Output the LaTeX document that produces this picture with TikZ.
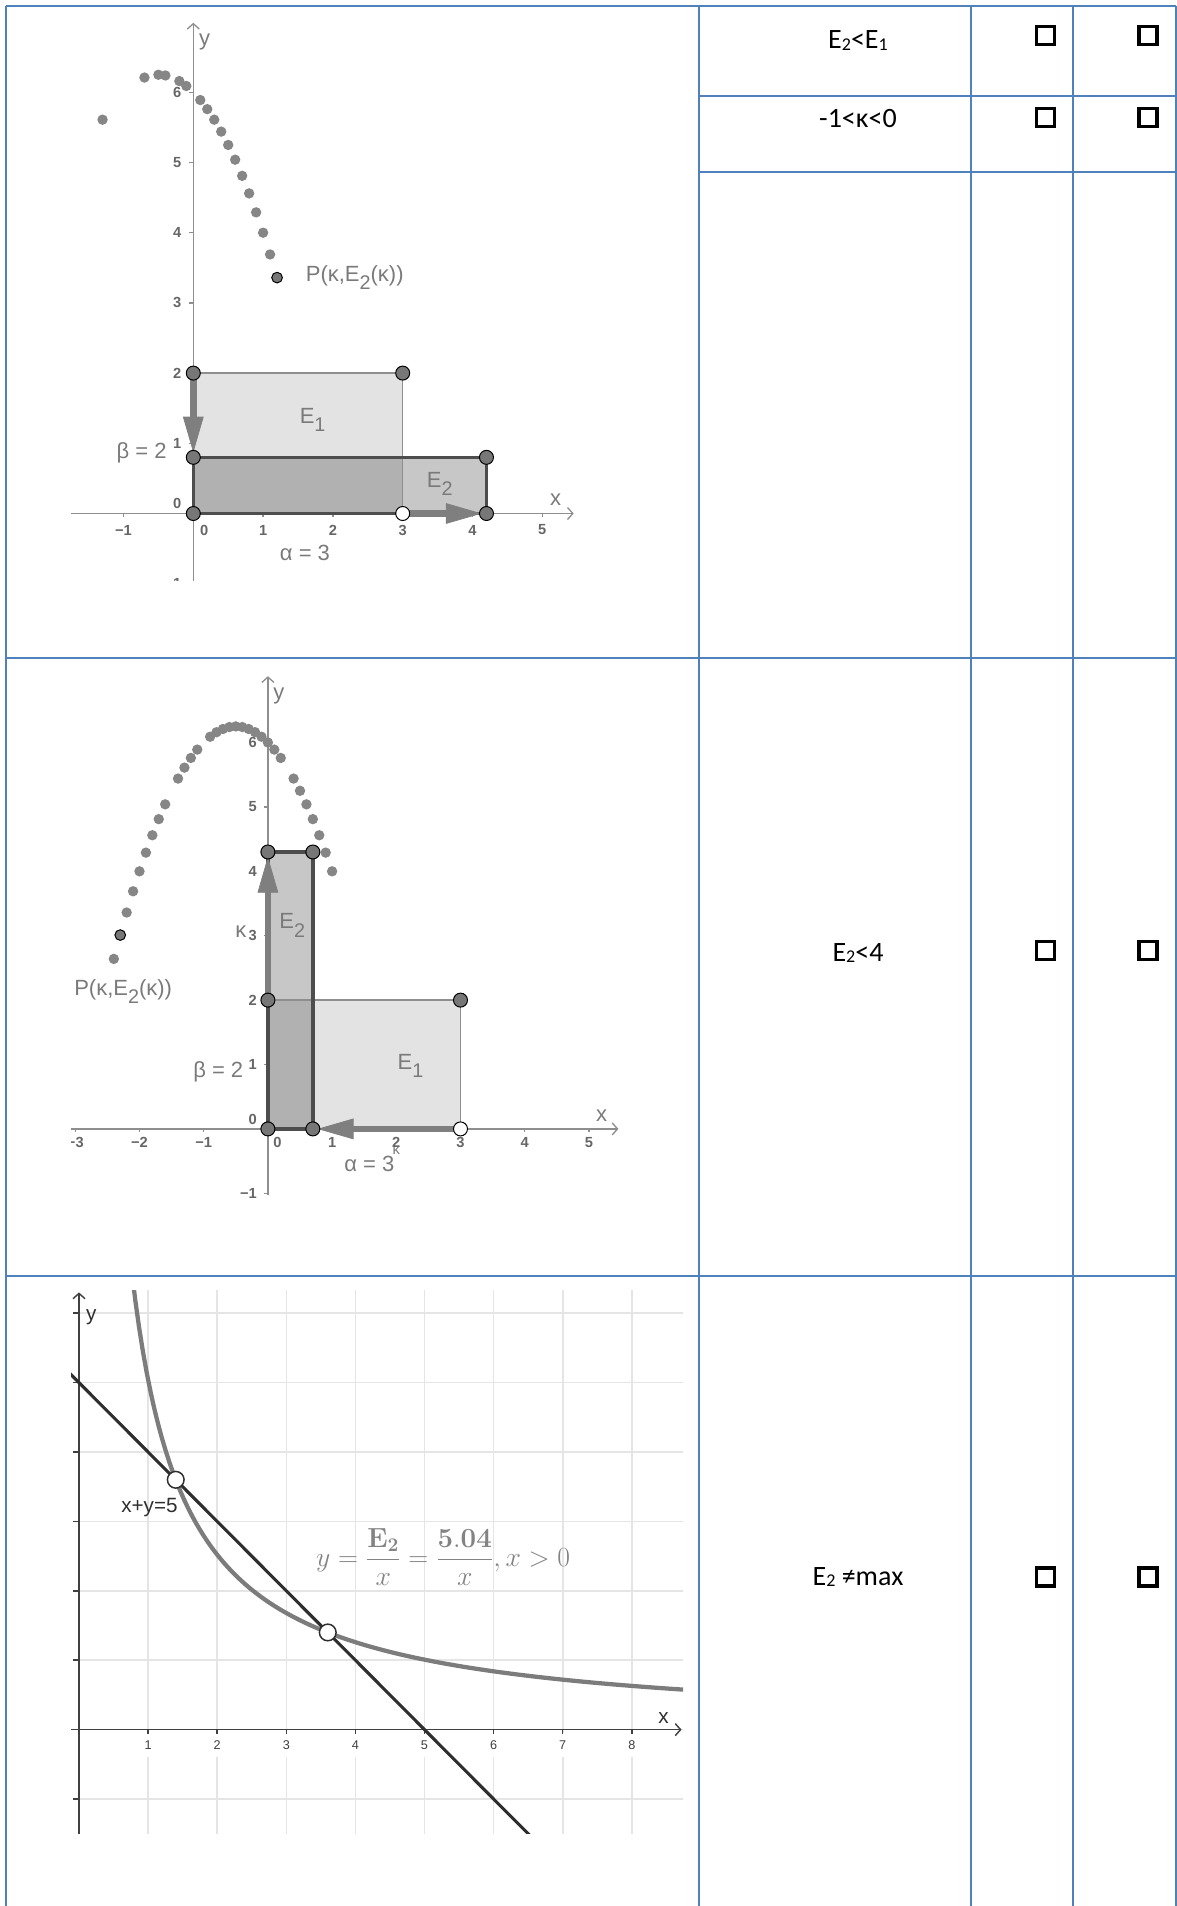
\documentclass[tikz,border=0pt]{standalone}
\usepackage[no-math]{fontspec}
\setmainfont{Carlito}
\newfontfamily\ggfont{Liberation Sans}
\usetikzlibrary{arrows.meta,positioning}
\definecolor{TabBlue}{HTML}{4F81BD}
\definecolor{AxisGray}{HTML}{8E8E8E}
\definecolor{TickGray}{HTML}{666666}
\definecolor{LblGray}{HTML}{7A7A7A}
\definecolor{DotGray}{HTML}{868686}
\definecolor{VtxGray}{HTML}{777777}
\definecolor{VecGray}{HTML}{7F7F7F}
\definecolor{EdgeDark}{HTML}{4D4D4D}
\definecolor{GridGray}{HTML}{E5E5E5}
\definecolor{AxisDark}{HTML}{404040}
\definecolor{LineDark}{HTML}{2E2E2E}
\definecolor{CurveGray}{HTML}{7C7C7C}
\definecolor{FormGray}{HTML}{838383}
\newcommand{\gsub}[1]{\raisebox{-0.38em}{\scalebox{0.9}{#1}}}
\newcommand{\tsub}[1]{\raisebox{-0.07em}{\fontsize{13.5}{14}\selectfont#1}}

\begin{document}
\begin{tikzpicture}[
  x=0.75pt,y=-0.75pt,
  every node/.style={inner sep=0pt},
  tabline/.style={draw=TabBlue,line width=1pt},
  cell/.style={font=\fontsize{21}{25}\selectfont,anchor=base},
  chk/.style={draw=black,line width=2.4pt,minimum size=13.4pt},
  ax/.style={draw=AxisGray,line width=1pt,-{Straight Barb[length=4pt,width=9pt]}},
  axtick/.style={draw=AxisGray,line width=1pt},
  ticklbl/.style={font=\ggfont\bfseries\fontsize{11}{12}\selectfont,text=TickGray},
  lbl/.style={font=\ggfont\fontsize{16.5}{19}\selectfont,text=LblGray},
  trdot/.style={circle,fill=DotGray,minimum size=7.8pt},
  pdot/.style={circle,draw=black,line width=0.75pt,fill=VtxGray,minimum size=8pt},
  vtx/.style={circle,draw=black,line width=0.75pt,fill=VtxGray,minimum size=10.5pt},
  vtxw/.style={vtx,fill=white},
  areaA/.style={fill=black,fill opacity=0.11},
  areaB/.style={fill=black,fill opacity=0.22},
  edgeA/.style={draw=AxisGray,line width=1pt},
  edgeB/.style={draw=EdgeDark,line width=2.6pt},
  vec/.style={draw=VecGray,line width=4.8pt,-{Triangle[length=27pt,width=15.5pt,line width=0.5pt]},shorten >=3.5pt},
  grid3/.style={draw=GridGray,line width=1.2pt},
  ax3/.style={draw=AxisDark,line width=1.1pt,-{Straight Barb[length=4pt,width=9pt]}},
  axtick3/.style={draw=AxisDark,line width=1.1pt},
  tick3/.style={font=\ggfont\fontsize{9.5}{11}\selectfont,text=AxisDark,fill=white,inner xsep=2pt,inner ysep=6pt},
  lbl3/.style={font=\ggfont\fontsize{15.5}{18}\selectfont,text=LineDark},
  curve3/.style={draw=CurveGray,line width=3.2pt},
  line3/.style={draw=LineDark,line width=2.3pt},
  ipt/.style={circle,draw=LineDark,line width=1.1pt,fill=white,minimum size=12.5pt}
]
\useasboundingbox (0,0) rectangle (1177,1906);

% table rules
\draw[tabline] (6,6) -- (1176,6);
\draw[tabline] (6,6) -- (6,1906);
\draw[tabline] (699,6) -- (699,1906);
\draw[tabline] (971,6) -- (971,1906);
\draw[tabline] (1073,6) -- (1073,1906);
\draw[tabline] (1176,6) -- (1176,1906);
\draw[tabline] (6,658) -- (1176,658);
\draw[tabline] (6,1276) -- (1176,1276);
\draw[tabline] (699,96) -- (1176,96);
\draw[tabline] (699,172) -- (1176,172);

% statements
\node[cell] (t1) at (858,48.3) {E\tsub{2}<E\tsub{1}};
\node[cell] (t2) at (858,127.7) {-1<κ<0};
\node[cell] (t3) at (858,961) {E\tsub{2}<4};
\node[cell] (t4) at (858,1585) {E\tsub{2} ≠max};

% check boxes
\node[chk] (c1a) at (1045.5,35.5) {};
\node[chk] (c1b) at (1148,35.5) {};
\node[chk] (c2a) at (1045.5,117.5) {};
\node[chk] (c2b) at (1148,117.5) {};
\node[chk] (c3a) at (1045.5,950.5) {};
\node[chk] (c3b) at (1148,950.5) {};
\node[chk] (c4a) at (1045.5,1577) {};
\node[chk] (c4b) at (1148,1577) {};

% graph 1: kappa = 1.2
\begin{scope}
\clip (70,18) rectangle (600,580);
\begin{scope}[shift={(193.3,513.5)},x=52.35pt,y=52.65pt]
  \draw[ax] (-1.75,0) -- (5.45,0);
  \draw[ax] (0,-1) -- (0,6.99);
  \foreach \t in {-1,1,2,3,4,5} \draw[axtick] (\t,0) -- (\t,-0.045);
  \foreach \t in {-1,1,2,3,4,5,6} \draw[axtick] (0,\t) -- (-0.06,\t);
  \node[ticklbl] (g1xm1) at (-1,-0.235) {−1};
  \node[ticklbl] (g1x0) at (0.155,-0.235) {0};
  \foreach \t in {1,...,5} \node[ticklbl] (g1x\t) at (\t,-0.235) {\t};
  \node[ticklbl,anchor=east] (g1ym1) at (-0.17,-1) {−1};
  \node[ticklbl,anchor=east] (g1y0) at (-0.17,0.15) {0};
  \foreach \t in {1,...,6} \node[ticklbl,anchor=east] (g1y\t) at (-0.17,\t) {\t};
  \node[lbl,anchor=west] (g1ylbl) at (0.08,6.715) {y};
  \node[lbl] (g1xlbl) at (5.19,0.19) {x};
  % trace of P
  \foreach \k [count=\i] in {-1.3,-0.7,-0.5,-0.4,-0.2,-0.1,0.1,0.2,0.3,0.4,0.5,0.6,0.7,0.8,0.9,1.0,1.1}
    \node[trdot] (g1d\i) at (\k,{(3+(\k))*(2-(\k))}) {};
  % rectangles
  \coordinate (O1) at (0,0);
  \coordinate (A1) at (0,2);
  \coordinate (B1) at (3,2);
  \coordinate (C1) at (3,0);
  \coordinate (D1) at (4.2,0);
  \coordinate (F1) at (4.2,0.8);
  \coordinate (G1) at (0,0.8);
  \fill[areaA] (O1) rectangle (B1);
  \fill[areaB] (O1) rectangle (F1);
  \draw[edgeA] (A1) -- (B1) -- (C1);
  \draw[edgeB] (O1) -- (G1) -- (F1) -- (D1) -- cycle;
  \draw[vec] (A1) -- (G1);
  \draw[vec] (C1) -- (D1);
  \foreach \c in {O1,A1,B1,G1,F1,D1} \node[vtx] (v\c) at (\c) {};
  \node[vtxw] (vC1) at (C1) {};
  \node[pdot] (P1) at (1.2,3.36) {};
  \node[lbl,right=17pt of P1] (P1lbl) {P(κ,E\gsub{2}(κ))};
  \node[lbl] (E1a) at (1.71,1.33) {E\gsub{1}};
  \node[lbl] (E2a) at (3.53,0.42) {E\gsub{2}};
  \node[lbl,anchor=east] (beta1) at (-0.38,0.86) {β = 2};
  \node[lbl] (alpha1) at (1.6,-0.567) {α = 3};
\end{scope}
\end{scope}

% graph 2: kappa = -2.3
\begin{scope}
\clip (71,672) rectangle (625,1198);
\begin{scope}[shift={(267.9,1128.9)},x=48.15pt,y=48.3pt]
  \draw[ax] (-3.2,0) -- (5.46,0);
  \draw[ax] (0,-1.02) -- (0,7.03);
  \foreach \t in {-3,-2,-1,1,2,3,4,5} \draw[axtick] (\t,0) -- (\t,-0.05);
  \foreach \t in {-1,1,2,3,4,5,6} \draw[axtick] (0,\t) -- (-0.065,\t);
  \node[ticklbl] (g2xm3) at (-3,-0.215) {−3};
  \node[ticklbl] (g2xm2) at (-2,-0.215) {−2};
  \node[ticklbl] (g2xm1) at (-1,-0.215) {−1};
  \node[ticklbl] (g2x0) at (0.15,-0.215) {0};
  \foreach \t in {1,...,5} \node[ticklbl] (g2x\t) at (\t,-0.215) {\t};
  \node[ticklbl,anchor=east] (g2ym1) at (-0.17,-1) {−1};
  \node[ticklbl,anchor=east] (g2y0) at (-0.17,0.15) {0};
  \foreach \t in {1,...,6} \node[ticklbl,anchor=east] (g2y\t) at (-0.17,\t) {\t};
  \node[lbl,anchor=west] (g2ylbl) at (0.08,6.72) {y};
  \node[lbl] (g2xlbl) at (5.2,0.2) {x};
  % trace of P
  \foreach \k [count=\i] in {-2.4,-2.2,-2.1,-2.0,-1.9,-1.8,-1.7,-1.6,-1.4,-1.3,-1.2,-1.1,-0.9,-0.8,-0.7,-0.6,-0.5,-0.4,-0.3,-0.2,-0.1,0,0.1,0.2,0.4,0.5,0.6,0.7,0.8,0.9,1.0}
    \node[trdot] (g2d\i) at (\k,{(3+(\k))*(2-(\k))}) {};
  % rectangles
  \coordinate (O2) at (0,0);
  \coordinate (A2) at (0,2);
  \coordinate (B2) at (3,2);
  \coordinate (C2) at (3,0);
  \coordinate (D2) at (0.7,0);
  \coordinate (F2) at (0.7,4.3);
  \coordinate (G2) at (0,4.3);
  \fill[areaA] (O2) rectangle (B2);
  \fill[areaB] (O2) rectangle (F2);
  \draw[edgeA] (A2) -- (B2) -- (C2);
  \draw[edgeB] (O2) -- (G2) -- (F2) -- (D2) -- cycle;
  \draw[vec] (A2) -- (G2);
  \draw[vec] (C2) -- (D2);
  \foreach \c in {O2,A2,B2,D2,F2,G2} \node[vtx] (v\c) at (\c) {};
  \node[vtxw] (vC2) at (C2) {};
  \node[pdot] (P2) at (-2.3,3.01) {};
  \node[lbl,anchor=west] (P2lbl) at (-3.02,2.13) {P(κ,E\gsub{2}(κ))};
  \node[lbl] (kap2) at (-0.42,3.07) {κ};
  \node[lbl] (E2b) at (0.38,3.16) {E\gsub{2}};
  \node[lbl] (E1b) at (2.22,0.98) {E\gsub{1}};
  \node[lbl,anchor=east] (beta2) at (-0.38,0.885) {β = 2};
  \node[lbl] (alpha2) at (1.58,-0.55) {α = 3};
  \node[lbl,font=\ggfont\fontsize{11}{12}\selectfont] (kap2b) at (2.0,-0.33) {κ};
\end{scope}
\end{scope}

% graph 3: x+y=5 and y=E2/x
\begin{scope}
\clip (71,1290) rectangle (683,1833);
\begin{scope}[shift={(79,1729.6)},x=51.825pt,y=52.05pt]
  \foreach \t in {1,...,8} \draw[grid3] (\t,-1.6) -- (\t,6.4);
  \foreach \t in {-1,0,1,2,3,4,5,6} \draw[grid3] (0,\t) -- (8.9,\t);
  \foreach \t in {1,...,8} \node[tick3] (g3x\t) at (\t,-0.22) {\t};
  \draw[ax3] (-0.2,0) -- (8.72,0);
  \draw[ax3] (0,-1.6) -- (0,6.3);
  \foreach \t in {1,...,8} \draw[axtick3] (\t,0) -- (\t,-0.06);
  \foreach \t in {-1,1,2,3,4,5,6} \draw[axtick3] (0,\t) -- (-0.09,\t);
  \node[lbl3,anchor=west] (g3ylbl) at (0.1,5.95) {y};
  \node[lbl3] (g3xlbl) at (8.46,0.16) {x};
  \draw[curve3] plot[domain=0.76:8.9,samples=150] (\x,{5.04/\x});
  \draw[line3] (-0.2,5.2) -- (6.7,-1.7);
  \node[ipt] (S1) at (1.4,3.6) {};
  \node[ipt] (S2) at (3.6,1.4) {};
  \node[lbl3] (sum3) at (1.02,3.2) {x+y=5};
  \node[text=FormGray,font=\fontsize{21.5}{25}\selectfont] (form3) at (5.27,2.49)
    {$\displaystyle y=\frac{\mathbf{E_2}}{x}=\frac{\mathbf{5.04}}{x},x>0$};
\end{scope}
\end{scope}
\end{tikzpicture}
\end{document}
